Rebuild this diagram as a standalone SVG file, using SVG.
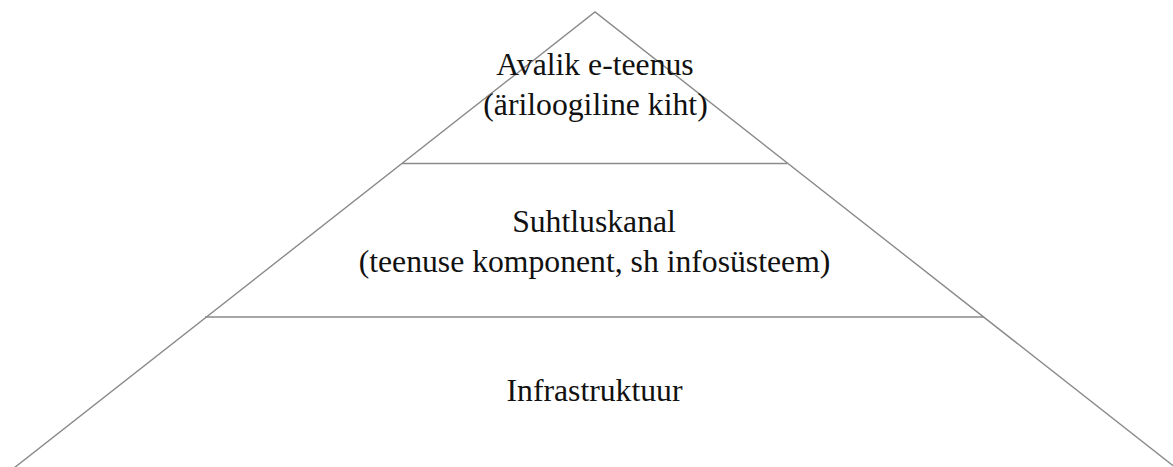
<svg xmlns="http://www.w3.org/2000/svg" width="1173" height="467" viewBox="0 0 1173 467">
  <style>
    .edge { stroke: #8a8a8a; stroke-width: 1.4; fill: none; }
    .label { font-family: "Liberation Serif", "Times New Roman", serif; font-size: 31.7px; fill: #111; text-anchor: middle; }
  </style>
  <rect width="1173" height="467" fill="#ffffff"/>
  <!-- pyramid outline and layer dividers -->
  <g id="connectors">
    <polyline class="edge" points="14,468 595,12 1176,468"/>
    <line class="edge" x1="402" y1="163.5" x2="787" y2="163.5"/>
    <line class="edge" x1="205" y1="317" x2="984" y2="317"/>
  </g>
  <g id="layer-top">
    <text class="label" x="595" y="75">Avalik e-teenus</text>
    <text class="label" x="595.5" y="115">(äriloogiline kiht)</text>
  </g>
  <g id="layer-middle">
    <text class="label" x="594" y="232">Suhtluskanal</text>
    <text class="label" x="594.5" y="272">(teenuse komponent, sh infosüsteem)</text>
  </g>
  <g id="layer-bottom">
    <text class="label" x="594.5" y="401">Infrastruktuur</text>
  </g>
</svg>
